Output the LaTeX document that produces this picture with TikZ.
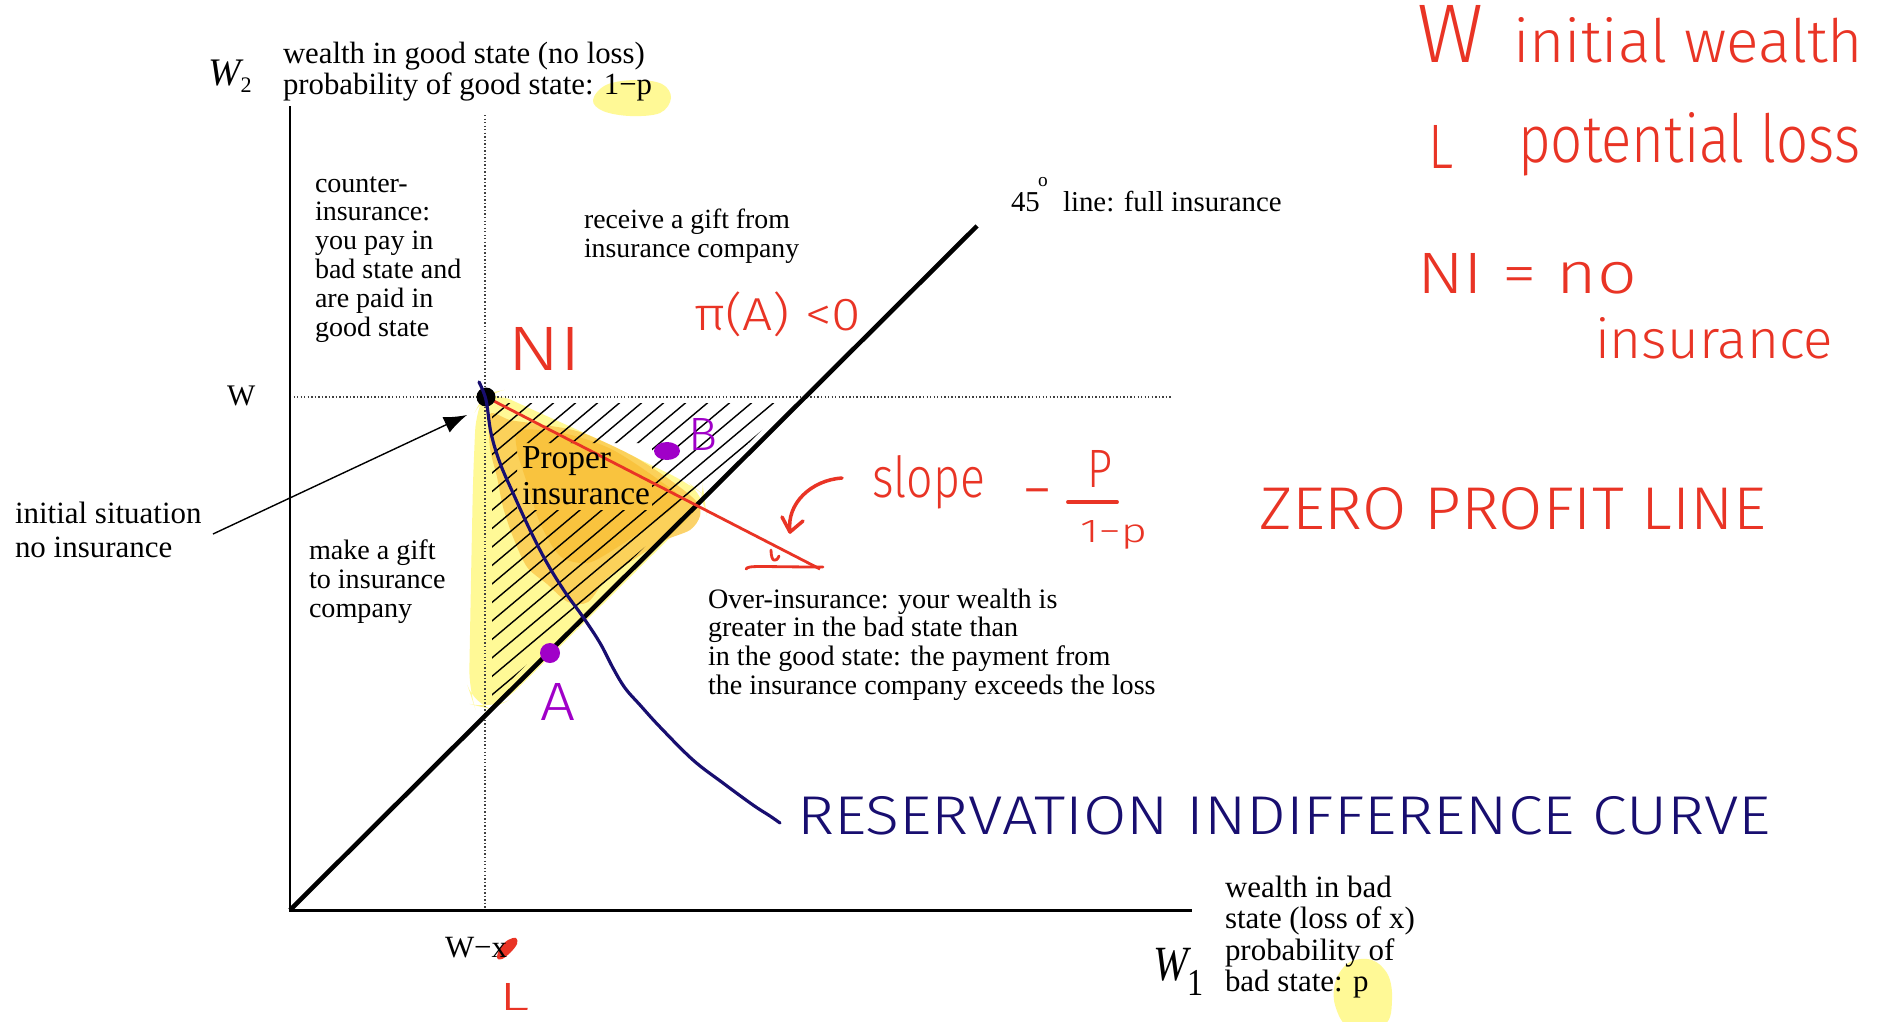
\documentclass[tikz,border=0pt]{standalone}
\usepackage{fontspec}
\usepackage{graphicx}
\setmainfont{Liberation Serif}
\IfFontExistsTF{Fira Sans Light}{\newfontfamily\hand{Fira Sans Light}}{\newfontfamily\hand{Fira Sans}}
\usetikzlibrary{arrows.meta}
\definecolor{hred}{RGB}{233,52,37}
\definecolor{hblue}{RGB}{24,14,112}
\definecolor{hpurple}{RGB}{160,0,200}
\definecolor{hyel}{RGB}{255,249,150}
\definecolor{hor}{RGB}{251,203,80}
\definecolor{hor2}{RGB}{248,184,40}
\newcommand\hw[3]{\resizebox{#1}{#2}{\hand #3}}
\newcommand\fs[2]{\fontsize{#1}{#2}\selectfont}
\newcommand\ml[1]{\vtop{\halign{##\hfil\cr#1\crcr}}}
\begin{document}
\begin{tikzpicture}[x=0.01cm,y=-0.01cm,
  every node/.style={inner sep=0pt,outer sep=0pt,anchor=base west},
  axis/.style={line width=0.85pt,black},
  dotl/.style={line width=0.35pt,dash pattern=on 0.4pt off 0.6pt,black!75},
  hand/.style={line width=1pt,line cap=round,line join=round}]
\useasboundingbox (0,0) rectangle (1885,1021);
\fill[white] (0,0) rectangle (1885,1021);
% coordinates
\coordinate (O) at (290,910);
\coordinate (ytop) at (290,106);
\coordinate (xend) at (1192,910);
\coordinate (L45) at (977,226);
\coordinate (NI) at (486,397);
\coordinate (ZP) at (820,569);
\coordinate (vtop) at (485,115);
\coordinate (vbot) at (485,910);
\coordinate (hleft) at (290,397);
\coordinate (hright) at (1172,397);
\coordinate (arrS) at (213,534);
\coordinate (arrE) at (467,415);
% text highlights
\fill[hyel] plot[smooth cycle,tension=0.6] coordinates {(593,100) (606,85) (635,80) (662,84) (671,98) (660,113) (630,116) (603,111)};
\fill[hyel] plot[smooth cycle,tension=0.6] coordinates {(1336,980) (1350,962) (1372,960) (1388,975) (1392,1000) (1385,1024) (1350,1028) (1335,1005)};
% area highlights
\fill[hyel,rounded corners=6] (484,394) -- (476,410) -- (473,480) -- (471,580) -- (469,690) -- (474,705) -- (490,709) -- (503,703) -- (705,503) -- (704,495) -- (690,484) -- (600,440) -- (520,404) -- (494,392) -- cycle;
\fill[hor,opacity=0.85] plot[smooth cycle,tension=0.5] coordinates {(490,414) (510,420) (537,424) (580,432) (633,456) (673,482) (697,502) (700,516) (690,530) (663,541) (633,560) (607,578) (588,602) (568,602) (547,584) (527,567) (513,537) (503,507) (497,477) (490,448)};
\fill[hor2,opacity=0.55] plot[smooth cycle,tension=0.5] coordinates {(520,430) (567,434) (613,450) (663,483) (680,500) (653,523) (613,550) (587,563) (560,556) (540,523) (527,483) (517,450)};
% hatch
\begin{scope}
\clip (492,403) -- (789,403) -- (492,699) -- (492,476) -- (517,476) -- (517,510) -- (652,510) -- (652,443) -- (517,443) -- (517,476) -- (492,476) -- cycle;
\foreach \k in {-1,...,16} \draw[line width=0.4pt] ({132+22*\k},720) -- ++(400,-336);
\end{scope}
% dotted guides
\draw[dotl] (vtop) -- (vbot);
\draw[dotl] (hleft) -- (hright);
% axes
\draw[axis] (ytop) -- (O) -- (xend);
\draw[line width=1.3pt] (O) -- (L45);
% zero profit line and marks
\draw[hred,line width=0.8pt] (NI) -- (ZP);
\draw[hred,hand,line width=0.8pt] (746,569) .. controls (748,565) and (760,567) .. (823,567);
\draw[hred,hand,line width=0.8pt] (771,550) .. controls (771,562) and (776,563) .. (779,556);
\draw[hred,hand] (842,478) .. controls (812,480) and (786,503) .. (790,532);
\draw[hred,hand] (782,517) -- (790,532) -- (803,521);
\draw[hred,hand,line width=1.1pt] (1068,502) -- (1117,502);
% arrow
\draw[line width=0.4pt,-{Latex[length=0.23cm,width=0.17cm]}] (arrS) -- (arrE);
% dots
\fill (NI) circle[radius=9.5];
\fill[hpurple] (550,653) circle[radius=10];
\fill[hpurple] (667,451) ellipse[x radius=13,y radius=9];
% indifference curve
\draw[hblue,line width=0.9pt,line cap=round] plot[smooth,tension=0.6] coordinates {(479,382) (486,400) (491,433) (500,463) (513,493) (530,530) (547,563) (565,592) (583,617) (600,643) (613,668) (625,688) (640,705) (660,727) (693,760) (723,783) (753,805) (770,816) (780,823)};
% red scribble over x
\fill[hred] plot[smooth cycle,tension=0.6] coordinates {(497,958) (500,948) (508,940) (516,938) (517,944) (510,953) (502,959)};
% printed text
\node (W2) at (208,85) {\fs{11.1}{12}\itshape W\raisebox{-2pt}{\fs{6.3}{7}\upshape 2}};
\node (W1) at (1153,980) {\scalebox{0.85}[1]{\fs{14}{15}\itshape W\raisebox{-4.5pt}{\fs{10.8}{11}\upshape 1}}};
\node (Wlab) at (227,405) {\fs{8.5}{9}W};
\node (Wx) at (445,957) {\fs{8.8}{9}W−x};
\node (goodlab) at (283,63) {\fs{8.76}{8.82}\ml{wealth in good state (no loss)\cr probability of good state: 1−p}};
\node (counter) at (315,192) {\fs{7.97}{8.2}\ml{counter-\cr insurance:\cr you pay in\cr bad state and\cr are paid in\cr good state}};
\node (gift) at (309,559) {\fs{8}{8.25}\ml{make a gift\cr to insurance\cr company}};
\node (init) at (15,523) {\fs{8.8}{9.7}\ml{initial situation\cr no insurance}};
\node (receive) at (584,228) {\fs{7.9}{8.25}\ml{receive a gift from\cr insurance company}};
\node (deg45) at (1011,211) {\fs{8.2}{9}45};
\node (degO) at (1038,186) {\fs{5.5}{6}o};
\node (fullins) at (1063,211) {\fs{8.2}{9}line: full insurance};
\node (proper) at (522,468) {\fs{9.5}{10.5}\ml{Proper\cr insurance}};
\node (over) at (708,608) {\fs{8}{8.2}\ml{Over-insurance: your wealth is\cr greater in the bad state than\cr in the good state: the payment from\cr the insurance company exceeds the loss}};
\node (badlab) at (1225,897) {\fs{8.8}{9}\ml{wealth in bad\cr state (loss of x)\cr probability of\cr bad state: p}};
% handwriting
\node[hred] (hwW) at (1417,62) {\hw{0.66cm}{0.57cm}{W}};
\node[hred] (hwInit) at (1513,62) {\hw{3.5cm}{0.45cm}{initial wealth}};
\node[hred] (hwL) at (1428,168) {\hw{0.25cm}{0.43cm}{L}};
\node[hred] (hwPot) at (1518,162) {\hw{3.42cm}{0.5cm}{potential loss}};
\node[hred] (hwNI) at (1417,293) {\hw{2.2cm}{0.4cm}{NI = no}};
\node[hred] (hwIns) at (1595,358) {\hw{2.38cm}{0.41cm}{insurance}};
\node[hred] (hwZero) at (1259,529) {\hw{5.07cm}{0.42cm}{ZERO PROFIT LINE}};
\node[hred] (hwSlope) at (872,497) {\hw{1.13cm}{0.42cm}{slope}};
\node[hred,anchor=center] (hwMinus) at (1037,500) {\resizebox{0.3cm}{!}{\hand −}};
\node[hred] (hwP) at (1087,487) {\hw{0.25cm}{0.37cm}{P}};
\node[hred] (hw1p) at (1080,542) {\hw{0.67cm}{0.22cm}{1−p}};
\node[hred] (hwNIlab) at (507,370) {\hw{0.75cm}{0.43cm}{NI}};
\node[hred,anchor=west] (hwPi) at (694,314) {\resizebox*{1.67cm}{0.45cm}{\hand π(A) <0}};
\node[hpurple] (hwA) at (540,720) {\hw{0.35cm}{0.37cm}{A}};
\node[hpurple] (hwB) at (688,450) {\hw{0.29cm}{0.32cm}{B}};
\node[hblue] (hwRes) at (797,834) {\hw{9.73cm}{0.38cm}{RESERVATION INDIFFERENCE CURVE}};
\node[hred] (hwL2) at (499,1010) {\hw{0.3cm}{0.27cm}{L}};
\end{tikzpicture}
\end{document}
